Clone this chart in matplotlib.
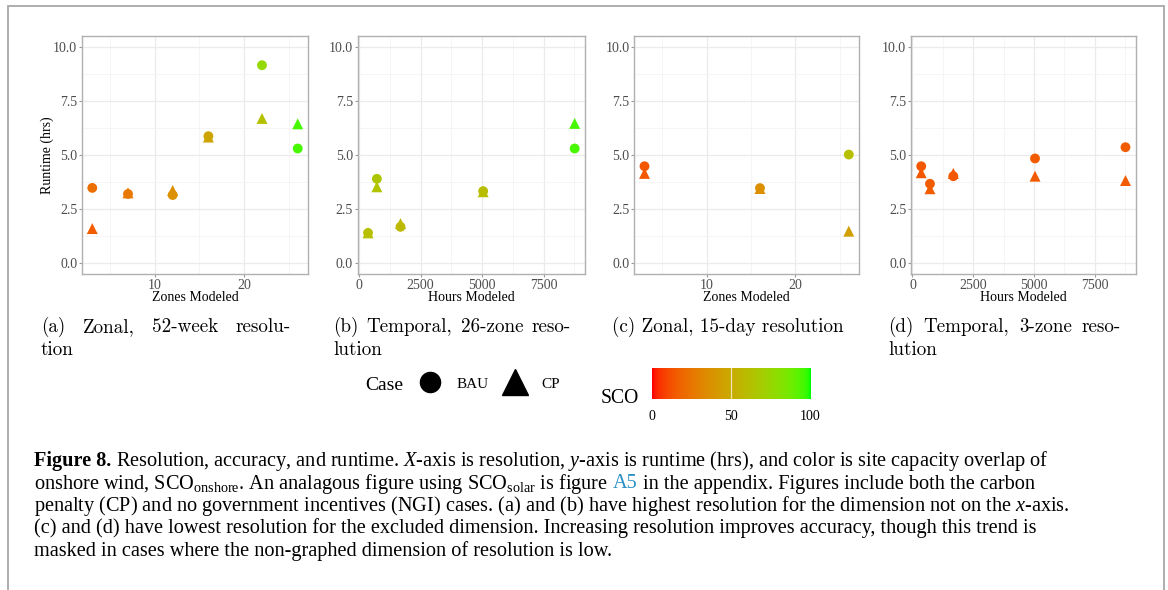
import numpy as np
import matplotlib
matplotlib.use("Agg")
import matplotlib.pyplot as plt
from matplotlib.colors import ListedColormap, Normalize
from matplotlib.lines import Line2D
from matplotlib.patches import Rectangle
from matplotlib.ticker import FixedLocator

plt.rcParams['font.family'] = ['Liberation Serif', 'DejaVu Serif']
plt.rcParams['mathtext.fontset'] = 'custom'
plt.rcParams['mathtext.rm'] = 'Liberation Serif'
plt.rcParams['mathtext.it'] = 'Liberation Serif:italic'
plt.rcParams['mathtext.bf'] = 'Liberation Serif:bold'

# ---------------- data ----------------
# (a) Zonal, 52-week resolution
a_zones = [3, 7, 12, 16, 22, 26]
a_bau_runtime = [3.48, 3.20, 3.15, 5.87, 9.15, 5.30]
a_cp_runtime = [1.60, 3.25, 3.36, 5.83, 6.69, 6.44]
a_bau_sco = [22, 26, 37, 47, 76, 95]
a_cp_sco = [16, 24, 35, 46, 62, 95]
# (b) Temporal, 26-zone resolution
b_hours = [360, 720, 1680, 5040, 8760]
b_bau_runtime = [1.40, 3.90, 1.68, 3.33, 5.30]
b_cp_runtime = [1.40, 3.53, 1.83, 3.30, 6.46]
b_bau_sco = [61, 65, 57, 60, 95]
b_cp_sco = [61, 63, 57, 60, 95]
# (c) Zonal, 15-day resolution
c_zones = [3, 16, 26]
c_bau_runtime = [4.48, 3.47, 5.02]
c_cp_runtime = [4.15, 3.45, 1.48]
c_bau_sco = [14, 36, 61]
c_cp_sco = [14, 36, 44]
# (d) Temporal, 3-zone resolution
d_hours = [360, 720, 1680, 5040, 8760]
d_bau_runtime = [4.48, 3.67, 4.02, 4.84, 5.36]
d_cp_runtime = [4.18, 3.44, 4.15, 4.02, 3.82]
d_bau_sco = [14, 16, 14, 15, 15]
d_cp_sco = [14, 16, 14, 15, 15]

panel_titles = [("(a) Zonal, 52-week resolu-", "tion"),
                ("(b) Temporal, 26-zone reso-", "lution"),
                ("(c) Zonal, 15-day resolution", ""),
                ("(d) Temporal, 3-zone reso-", "lution")]
case_labels = ["BAU", "CP"]
sco_ticks = [0, 50, 100]

caption_lines = [
    [("Figure 8.", 'black', 'bold'),
     (r"Resolution, accuracy, and runtime. $\mathit{X}$-axis is resolution, $\mathit{y}$-axis is runtime (hrs), and color is site capacity overlap of", 'black', 'normal')],
    [(r"onshore wind, SCO$_{\mathrm{onshore}}$. An analagous figure using SCO$_{\mathrm{solar}}$ is figure", 'black', 'normal'),
     ("A5", '#2a8fc4', 'normal'),
     ("in the appendix. Figures include both the carbon", 'black', 'normal')],
    [(r"penalty (CP) and no government incentives (NGI) cases. (a) and (b) have highest resolution for the dimension not on the $\mathit{x}$-axis.", 'black', 'normal')],
    [("(c) and (d) have lowest resolution for the excluded dimension. Increasing resolution improves accuracy, though this trend is", 'black', 'normal')],
    [("masked in cases where the non-graphed dimension of resolution is low.", 'black', 'normal')],
]


# ---------------- colour scale (Lab interpolation red -> green, like ggplot) ----------------
def srgb_to_lab(rgb):
    rgb = np.asarray(rgb, float)
    lin = np.where(rgb <= 0.04045, rgb / 12.92, ((rgb + 0.055) / 1.055) ** 2.4)
    M = np.array([[0.4124, 0.3576, 0.1805], [0.2126, 0.7152, 0.0722], [0.0193, 0.1192, 0.9505]])
    xyz = M @ lin
    wp = np.array([0.95047, 1.0, 1.08883])
    t = xyz / wp
    f = np.where(t > (6 / 29) ** 3, np.cbrt(t), t / (3 * (6 / 29) ** 2) + 4 / 29)
    return np.array([116 * f[1] - 16, 500 * (f[0] - f[1]), 200 * (f[1] - f[2])])


def lab_to_srgb(lab):
    L, a, b = lab
    fy_ = (L + 16) / 116
    fx_ = fy_ + a / 500
    fz_ = fy_ - b / 200

    def finv(f):
        return np.where(f > 6 / 29, f ** 3, 3 * (6 / 29) ** 2 * (f - 4 / 29))
    wp = np.array([0.95047, 1.0, 1.08883])
    xyz = np.array([finv(fx_), finv(fy_), finv(fz_)]) * wp
    Minv = np.array([[3.2406, -1.5372, -0.4986], [-0.9689, 1.8758, 0.0415], [0.0557, -0.2040, 1.0570]])
    lin = np.clip(Minv @ xyz, 0, 1)
    rgb = np.where(lin <= 0.0031308, 12.92 * lin, 1.055 * lin ** (1 / 2.4) - 0.055)
    return np.clip(rgb, 0, 1)


lab_lo = srgb_to_lab([1.0, 0.0, 0.0])
lab_hi = srgb_to_lab([0.0, 1.0, 0.0])
cols = [lab_to_srgb(lab_lo + (lab_hi - lab_lo) * t) for t in np.linspace(0, 1, 256)]
cmap = ListedColormap(cols)
norm = Normalize(0, 100)

# ---------------- figure ----------------
W, H = 1168, 590
fig = plt.figure(figsize=(W / 100, H / 100), dpi=100)
fig.patch.set_facecolor('white')


def fx(px):
    return px / W


def fy(py):
    return 1 - py / H


axes_px = [(82, 308), (357.7, 585), (634.3, 859), (911, 1135.7)]
top_px, bot_px = 36, 274

panels = [
    (a_zones, a_bau_runtime, a_cp_runtime, a_bau_sco, a_cp_sco, 'Zones Modeled'),
    (b_hours, b_bau_runtime, b_cp_runtime, b_bau_sco, b_cp_sco, 'Hours Modeled'),
    (c_zones, c_bau_runtime, c_cp_runtime, c_bau_sco, c_cp_sco, 'Zones Modeled'),
    (d_hours, d_bau_runtime, d_cp_runtime, d_bau_sco, d_cp_sco, 'Hours Modeled'),
]

spine_col = '#b0b0b0'
for i, ((x0, x1), (xs, yb, yc, sb, sc, xlabel)) in enumerate(zip(axes_px, panels)):
    ax = fig.add_axes([fx(x0), fy(bot_px), fx(x1 - x0), (bot_px - top_px) / H])
    ax.set_facecolor('white')
    xmin, xmax = min(xs), max(xs)
    pad = 0.05 * (xmax - xmin)
    ax.set_xlim(xmin - pad, xmax + pad)
    ax.set_ylim(-0.5, 10.5)
    if xlabel.startswith('Zones'):
        ax.xaxis.set_major_locator(FixedLocator([10, 20]))
        ax.xaxis.set_minor_locator(FixedLocator([5, 15, 25]))
    else:
        ax.xaxis.set_major_locator(FixedLocator([0, 2500, 5000, 7500]))
        ax.xaxis.set_minor_locator(FixedLocator([1250, 3750, 6250, 8750]))
    ax.yaxis.set_major_locator(FixedLocator([0, 2.5, 5, 7.5, 10]))
    ax.yaxis.set_minor_locator(FixedLocator([1.25, 3.75, 6.25, 8.75]))
    ax.set_yticklabels(['0.0', '2.5', '5.0', '7.5', '10.0'])
    ax.grid(which='major', color='#ebebeb', lw=0.9)
    ax.grid(which='minor', color='#f4f4f4', lw=0.6)
    ax.set_axisbelow(True)
    for s in ax.spines.values():
        s.set_color(spine_col)
        s.set_linewidth(1.0)
    ax.tick_params(which='major', length=2.5, width=0.8, color='#9a9a9a',
                   labelsize=10, labelcolor='#4d4d4d', pad=1.0)
    ax.tick_params(which='minor', length=0)
    ax.set_xlabel(xlabel, fontsize=10, labelpad=-0.5, color='black')
    if i == 0:
        ax.set_ylabel('Runtime (hrs)', fontsize=10, labelpad=-1, color='black')
    ax.scatter(xs, yc, c=sc, cmap=cmap, norm=norm, marker='^', s=62, linewidths=0, zorder=3)
    ax.scatter(xs, yb, c=sb, cmap=cmap, norm=norm, marker='o', s=50, linewidths=0, zorder=3)

renderer = fig.canvas.get_renderer()


def text_width(s, **kw):
    t = fig.text(0, 0, s, **kw)
    w = t.get_window_extent(renderer=renderer).width
    t.remove()
    return w


# ---------------- sub-captions (first lines justified) ----------------
sub_x = [41, 333, 612, 888]
sub_end = [291, 571, None, 1121]
sub_family = ['cmr10', 'DejaVu Serif']
sub_size = 13 * 232 / text_width(panel_titles[2][0], fontsize=13, family=sub_family)
for (l1, l2), x, xe in zip(panel_titles, sub_x, sub_end):
    if xe is None:
        fig.text(fx(x), fy(332), l1, fontsize=sub_size, family=sub_family, va='baseline', ha='left')
    else:
        words = l1.split(' ')
        ws = [text_width(w, fontsize=sub_size, family=sub_family) for w in words]
        gap = (xe - x - sum(ws)) / (len(words) - 1)
        xc = x
        for w, wd in zip(words, ws):
            fig.text(fx(xc), fy(332), w, fontsize=sub_size, family=sub_family, va='baseline', ha='left')
            xc += wd + gap
    if l2:
        fig.text(fx(x), fy(355), l2, fontsize=sub_size, family=sub_family, va='baseline', ha='left')

# ---------------- legend ----------------
fig.text(fx(365), fy(385), 'Case', fontsize=14, va='center', ha='left')
handles = [Line2D([], [], marker='o', ls='', color='black', markersize=14.5, label=case_labels[0]),
           Line2D([], [], marker='^', ls='', color='black', markersize=19, label=case_labels[1])]
fig.legend(handles=handles, ncol=2, loc='center left', bbox_to_anchor=(fx(420), fy(384)),
           frameon=False, prop={'size': 11}, handlelength=1.3, handletextpad=1.06,
           columnspacing=1.1, borderpad=0, borderaxespad=0)

cax = fig.add_axes([fx(652), fy(399.3), fx(810 - 652), (399.3 - 368.3) / H])
grad = np.linspace(0, 100, 300)[None, :]
cax.imshow(grad, cmap=cmap, norm=norm, aspect='auto', extent=[0, 100, 0, 1])
cax.set_xlim(0, 100)
cax.set_ylim(0, 1)
cax.set_yticks([])
cax.set_xticks(sco_ticks)
cax.set_xticklabels([str(t) for t in sco_ticks])
cax.tick_params(axis='x', length=0, labelsize=10, pad=8, labelcolor='black')
for t in sco_ticks[1:-1]:
    cax.axvline(t, color='white', lw=0.9, alpha=0.7)
for s in cax.spines.values():
    s.set_visible(False)
fig.text(fx(601), fy(403), 'SCO', fontsize=14.2, va='baseline', ha='left')

# ---------------- caption ----------------
cap_x = 34
cap_base = [466, 488.5, 511, 533.5, 556]
cap_size = 14 * 1038 / text_width(caption_lines[2][0][0], fontsize=14)
space_w = text_width('a a', fontsize=cap_size) - text_width('aa', fontsize=cap_size)
for i, segs in enumerate(caption_lines):
    xcur = cap_x
    for s, c, wt in segs:
        t = fig.text(fx(xcur), fy(cap_base[i]), s, fontsize=cap_size, va='baseline', ha='left',
                     color=c, fontweight=wt)
        xcur += t.get_window_extent(renderer=renderer).width + space_w

# ---------------- page frame ----------------
fig.patches.append(Rectangle((fx(8), -0.05), fx(1164 - 8), fy(6) + 0.05, transform=fig.transFigure,
                             fill=False, edgecolor='#a8a8a8', lw=1.3, clip_on=False))

fig.savefig('out.png', dpi=100, facecolor='white')
